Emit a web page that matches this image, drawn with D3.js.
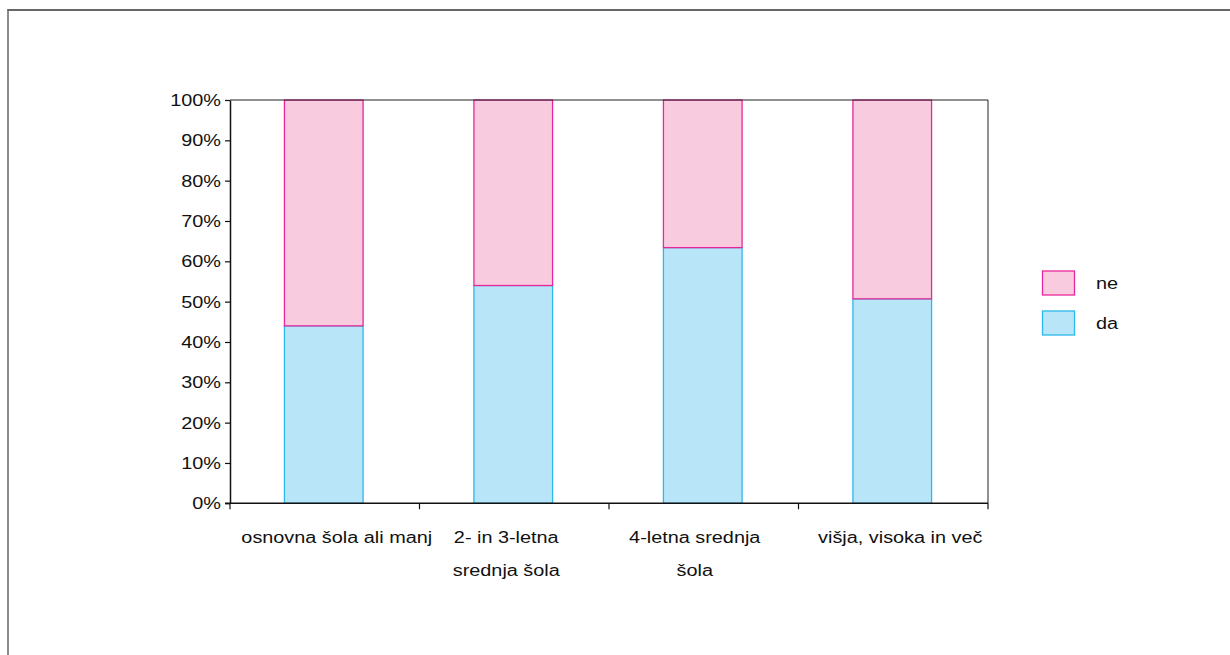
<!DOCTYPE html>
<html><head><meta charset="utf-8">
<script src="https://cdn.jsdelivr.net/npm/d3@7"></script>
<style>body{margin:0;background:#fff}svg{display:block}text{font-family:"Liberation Sans",Arial,sans-serif;fill:#111}</style>
</head><body><svg id="c" width="1230" height="655"></svg>
<script>
const categories = ["osnovna šola ali manj", "2- in 3-letna srednja šola", "4-letna srednja šola", "višja, visoka in več"];
const categoryLines = [["osnovna šola ali manj"], ["2- in 3-letna", "srednja šola"], ["4-letna srednja", "šola"], ["višja, visoka in več"]];
const seriesNames = ["da", "ne"];
const da = [44, 54, 63.4, 50.7];
const ne = [56, 46, 36.6, 49.3];
const yTicks = [0, 10, 20, 30, 40, 50, 60, 70, 80, 90, 100];

// layout (not data): small horizontal nudges of category labels
const labelNudge = [12, -8, -9, 7];

const svg = d3.select("#c");
const STRETCH = 1.24;
function stretch(sel){
  sel.each(function(){
    const n = this; const len = n.getComputedTextLength();
    if (len > 0) { n.setAttribute("textLength", len*STRETCH); n.setAttribute("lengthAdjust","spacingAndGlyphs"); }
  });
}
// outer border
svg.append("line").attr("x1",7.5).attr("x2",1230).attr("y1",10).attr("y2",10).attr("stroke","#666").attr("stroke-width",2);
svg.append("line").attr("x1",8).attr("x2",8).attr("y1",9).attr("y2",655).attr("stroke","#666").attr("stroke-width",1.5);

const L=230, R=988, T=100, B=503.3;
const x = d3.scaleBand().domain(categories).range([L,R]).padding(0);
const y = d3.scaleLinear().domain([0,100]).range([B,T]);
const colors = {da:{fill:"#B9E5F8",stroke:"#2BB8EA"}, ne:{fill:"#F8CBDF",stroke:"#E8289A"}};

const data = categories.map((c,i)=>({c, da:da[i], ne:ne[i]}));
const stack = d3.stack().keys(seriesNames)(data);
const bw = x.bandwidth()*0.415;
stack.forEach(s=>{
  svg.append("g").selectAll("rect").data(s).join("rect")
    .attr("x", d=>x(d.data.c)+x.bandwidth()/2-bw/2-1)
    .attr("width", bw)
    .attr("y", d=>y(d[1]))
    .attr("height", d=>y(d[0])-y(d[1]))
    .attr("fill", colors[s.key].fill)
    .attr("stroke", colors[s.key].stroke)
    .attr("stroke-width",1.3);
});

// frame top & right
svg.append("line").attr("x1",L).attr("x2",R).attr("y1",T).attr("y2",T).attr("stroke","#222").attr("stroke-width",1);
svg.append("line").attr("x1",R).attr("x2",R).attr("y1",T).attr("y2",B).attr("stroke","#222").attr("stroke-width",1);

// y axis
const ya = svg.append("g").attr("transform",`translate(${L},0)`)
  .call(d3.axisLeft(y).tickValues(yTicks).tickSize(5).tickSizeOuter(0).tickFormat(d=>d+"%"));
ya.select(".domain").attr("stroke","#111").attr("stroke-width",1.5);
ya.selectAll(".tick line").attr("stroke","#111").attr("stroke-width",1.2);
ya.selectAll(".tick text").attr("font-size",16).attr("x",-9).attr("dy","0.35em")
  .style("font-family","'Liberation Sans',Arial,sans-serif").attr("fill","#111");
stretch(ya.selectAll(".tick text"));

// x axis
svg.append("line").attr("x1",L-5).attr("x2",R).attr("y1",B).attr("y2",B).attr("stroke","#111").attr("stroke-width",1.5);
const bounds = categories.map(c=>x(c)).concat([R]);
svg.append("g").selectAll("line").data(bounds).join("line")
  .attr("x1",d=>d).attr("x2",d=>d).attr("y1",B).attr("y2",B+6).attr("stroke","#111").attr("stroke-width",1.2);
categories.forEach((c,i)=>{
  categoryLines[i].forEach((ln,j)=>{
    const t = svg.append("text").attr("x", x(c)+x.bandwidth()/2+labelNudge[i]).attr("y", 543+j*33)
      .attr("text-anchor","middle").attr("font-size",16).text(ln);
    stretch(t);
  });
});

// legend
const legend = ["ne","da"];
legend.forEach((k,i)=>{
  const yy = 271 + i*40;
  svg.append("rect").attr("x",1042.5).attr("y",yy).attr("width",32).attr("height",24)
    .attr("fill",colors[k].fill).attr("stroke",colors[k].stroke).attr("stroke-width",1.3);
  const t = svg.append("text").attr("x",1096).attr("y",yy+12).attr("dy","0.35em").attr("font-size",16).text(k);
  stretch(t);
});
</script></body></html>
